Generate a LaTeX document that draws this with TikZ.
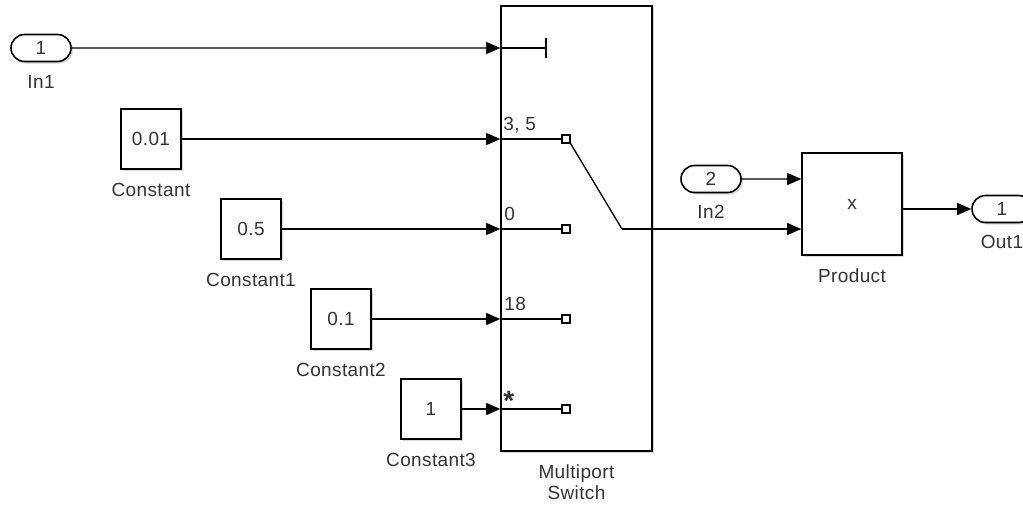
\documentclass[tikz,border=0pt]{standalone}
\usepackage{fontspec}
\setmainfont{Liberation Sans}[LetterSpace=2]
\usetikzlibrary{arrows.meta,positioning,shapes.misc,shadows}

\begin{document}
\begin{tikzpicture}[x=1pt, y=-1pt,
  shad/.style={drop shadow={shadow xshift=2pt, shadow yshift=-2pt, fill=black!30, opacity=0.5}},
  konst/.style={draw, line width=1.6pt, fill=white, shad, minimum size=60pt, inner sep=0pt, font=\fontsize{19}{21}\selectfont, text=black!80},
  pill/.style={draw, rounded rectangle, line width=1.6pt, fill=white, shad, minimum width=60pt, minimum height=27pt, inner sep=0pt, font=\fontsize{19}{21}\selectfont, text=black!80},
  lbl/.style={inner sep=0pt, text height=13pt, text depth=4pt, font=\fontsize{19}{21}\selectfont, text=black!80},
  plbl/.style={inner sep=0pt, anchor=base west, font=\fontsize{19}{21}\selectfont, text=black!80},
  sig/.style={line width=1.3pt, -{Triangle[length=14pt, width=12pt]}},
  wire/.style={line width=1.3pt},
  tipbox/.style={draw, line width=1.2pt, fill=white, minimum size=8pt, inner sep=0pt}]

\useasboundingbox (0,0) rectangle (1023,507);

% switch block
\node[draw, line width=1.6pt, fill=white, shad, minimum width=151pt, minimum height=445pt] (sw) at (576.5,228.5) {};
\node[lbl, below=13pt of sw] (swl1) {Multiport};
\node[lbl, below=4pt of swl1] (swl2) {Switch};

% inports and constants
\node[pill] (in1) at (41,48) {1};
\node[lbl, below=13pt of in1] (in1l) {In1};
\node[konst] (c0) at (151,139) {0.01};
\node[lbl, below=13pt of c0] (c0l) {Constant};
\node[konst] (c1) at (251,229) {0.5};
\node[lbl, below=13pt of c1] (c1l) {Constant1};
\node[konst] (c2) at (341,319) {0.1};
\node[lbl, below=13pt of c2] (c2l) {Constant2};
\node[konst] (c3) at (431,409) {1};
\node[lbl, below=13pt of c3] (c3l) {Constant3};

% port coordinates on the switch
\coordinate (p1) at (sw.west |- in1);
\coordinate (p2) at (sw.west |- c0);
\coordinate (p3) at (sw.west |- c1);
\coordinate (p4) at (sw.west |- c2);
\coordinate (p5) at (sw.west |- c3);

\draw[sig] (in1) -- (p1);
\draw[sig] (c0) -- (p2);
\draw[sig] (c1) -- (p3);
\draw[sig] (c2) -- (p4);
\draw[sig] (c3) -- (p5);

% inside the switch
\coordinate (ctl) at (546,48);
\draw[wire] (p1) -- (ctl);
\draw[wire] ([yshift=10pt]ctl) -- ([yshift=-10pt]ctl);
\node[tipbox] (t2) at (566,139) {};
\node[tipbox] (t3) at (566,229) {};
\node[tipbox] (t4) at (566,319) {};
\node[tipbox] (t5) at (566,409) {};
\draw[wire] (p2) -- (t2);
\draw[wire] (p3) -- (t3);
\draw[wire] (p4) -- (t4);
\draw[wire] (p5) -- (t5);
\node[plbl] at ([xshift=3pt, yshift=9pt]p2) {3, 5};
\node[plbl] at ([xshift=4pt, yshift=9pt]p3) {0};
\node[plbl] at ([xshift=4pt, yshift=9pt]p4) {18};
\node[plbl, font=\fontsize{28}{30}\selectfont\bfseries] at ([xshift=3pt, yshift=-1pt]p5) {*};
\coordinate (pv) at (622,229);
\draw[wire] (t2.south east) -- (pv);

% product and outport
\node[draw, line width=1.6pt, fill=white, shad, minimum width=100pt, minimum height=102pt, font=\fontsize{19}{21}\selectfont, text=black!80] (prod) at (852,204) {x};
\node[lbl, below=13pt of prod] (prodl) {Product};
\node[pill] (in2) at (711,179) {2};
\node[lbl, below=12pt of in2] (in2l) {In2};
\node[pill] (out1) at (1002,209) {1};
\node[lbl, below=12pt of out1] (out1l) {Out1};

\draw[sig] (in2) -- (in2 -| prod.west);
\draw[sig] (pv) -- (pv -| prod.west);
\draw[sig] (prod.east |- out1) -- (out1);
\end{tikzpicture}
\end{document}
